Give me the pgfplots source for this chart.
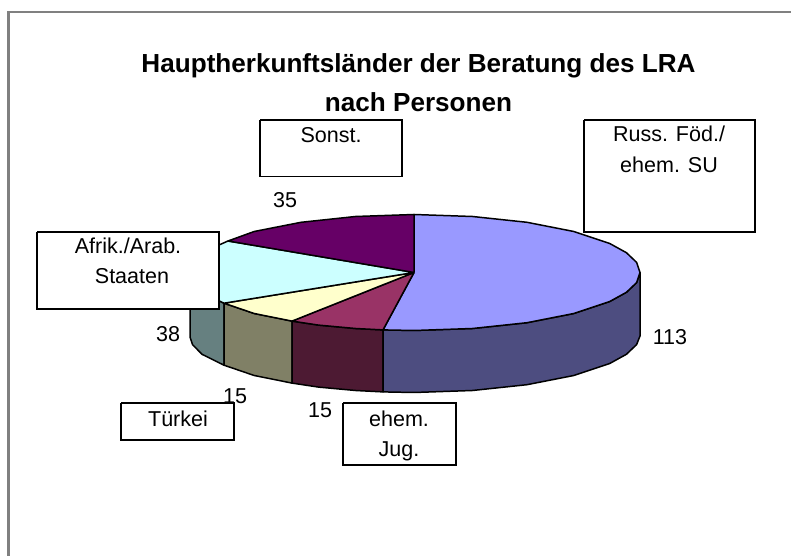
\documentclass[border=0pt]{standalone}
\usepackage{fontspec}
\setmainfont{Liberation Sans}
\usepackage{pgfplots}
\pgfplotsset{compat=1.18}
\definecolor{blueT}{HTML}{9999FF}
\definecolor{blueS}{HTML}{4D4D80}
\definecolor{maroonT}{HTML}{993366}
\definecolor{maroonS}{HTML}{4D1A33}
\definecolor{yellowT}{HTML}{FFFFCC}
\definecolor{yellowS}{HTML}{808066}
\definecolor{cyanT}{HTML}{CCFFFF}
\definecolor{cyanS}{HTML}{668080}
\definecolor{purpleT}{HTML}{660066}
\newcommand{\lab}{\fontsize{21.6}{27}\selectfont}
\newcommand{\ttl}{\fontsize{26.2}{30}\selectfont\bfseries}
\pgfplotsset{
  slice/.style={draw=black, line width=1.5pt, line join=round, no marks},
  box/.style={draw=black, line width=1.3pt, fill=white, no marks},
}
\tikzset{txt/.style={anchor=base, inner sep=0pt, outer sep=0pt}}
\begin{document}
\begin{tikzpicture}[x=1bp,y=1bp]
\path[use as bounding box] (0,0) rectangle (791,556);
\begin{axis}[
    at={(0,0)}, anchor=south west,
    scale only axis, width=791bp, height=556bp,
    xmin=0, xmax=791, ymin=0, ymax=556, y dir=reverse,
    hide axis,
]
% frame, only left and top sides
\addplot[draw=black!50, line width=2.5pt, no marks] coordinates {(8.5,556) (8.5,12) (791,12)};
% side walls
\addplot[slice, fill=cyanS] coordinates {(224,303.2) (201.6,292.3) (191.4,282.6) (190,272.5) (190,337) (192.5,344.6) (202,354.3) (224,365.2) (224,303.2)};
\addplot[slice, fill=yellowS] coordinates {(224,303.2) (254.2,313.5) (292,321.1) (292,383.1) (254.2,375.5) (224,365.2) (224,303.2)};
\addplot[slice, fill=maroonS] coordinates {(292,321.1) (318.5,325.1) (355.5,328.5) (383,329.9) (383,391.9) (355.5,390.5) (318.5,387.1) (292,383.1) (292,321.1)};
\addplot[slice, fill=blueS] coordinates {(383,329.9) (414,330.5) (472.5,328.5) (527,322.7) (573.8,313.5) (609.7,301.5) (626.4,292.3) (636.6,282.6) (640,272.5) (640,336) (636.6,344.6) (626.4,354.3) (609.7,363.5) (573.8,375.5) (527,384.7) (472.5,390.5) (414,392.5) (383,391.9) (383,329.9)};
% top faces
\addplot[slice, fill=blueT] coordinates {(414,272.5) (414,214.5) (472.5,216.5) (527,222.3) (573.8,231.5) (609.7,243.5) (626.4,252.7) (636.6,262.4) (640,272.5) (636.6,282.6) (626.4,292.3) (609.7,301.5) (573.8,313.5) (527,322.7) (472.5,328.5) (414,330.5) (383,329.9) (414,272.5)};
\addplot[slice, fill=maroonT] coordinates {(414,272.5) (383,329.9) (355.5,328.5) (318.5,325.1) (292,321.1) (414,272.5)};
\addplot[slice, fill=yellowT] coordinates {(414,272.5) (292,321.1) (254.2,313.5) (224,303.2) (414,272.5)};
\addplot[slice, fill=cyanT] coordinates {(414,272.5) (224,303.2) (201.6,292.3) (191.4,282.6) (188,272.5) (191.4,262.4) (201.6,252.7) (228,241) (414,272.5)};
\addplot[slice, fill=purpleT] coordinates {(414,272.5) (228,241) (254.2,231.5) (301,222.3) (355.5,216.5) (414,214.5) (414,272.5)};
% value labels
\node[txt, font=\lab] at (axis cs:285,208) {35};
\node[txt, font=\lab] at (axis cs:670,345) {113};
\node[txt, font=\lab] at (axis cs:168,342) {38};
\node[txt, font=\lab] at (axis cs:235,403) {15};
\node[txt, font=\lab] at (axis cs:320,417) {15};
% label boxes
\addplot[box] coordinates {(260,120) (402,120) (402,176.7) (260,176.7) (260,120)};
\addplot[box] coordinates {(584,120) (755,120) (755,232) (584,232) (584,120)};
\addplot[box] coordinates {(37,232) (219,232) (219,309) (37,309) (37,232)};
\addplot[box] coordinates {(121,403) (234,403) (234,440) (121,440) (121,403)};
\addplot[box] coordinates {(343,403) (456,403) (456,465) (343,465) (343,403)};
\node[txt, font=\lab] at (axis cs:331,143) {Sonst.};
\node[txt, font=\lab] at (axis cs:669,142) {Russ. Föd./};
\node[txt, font=\lab] at (axis cs:669,173) {ehem. SU};
\node[txt, font=\lab] at (axis cs:128,254) {Afrik./Arab.};
\node[txt, font=\lab] at (axis cs:132,284) {Staaten};
\node[txt, font=\lab] at (axis cs:178,426) {Türkei};
\node[txt, font=\lab] at (axis cs:399,426) {ehem.};
\node[txt, font=\lab] at (axis cs:399,456) {Jug.};
% title
\node[txt, font=\ttl] at (axis cs:418.5,73) {Hauptherkunftsländer der Beratung des LRA};
\node[txt, font=\ttl] at (axis cs:418.5,112) {nach Personen};
\end{axis}
\end{tikzpicture}
\end{document}
